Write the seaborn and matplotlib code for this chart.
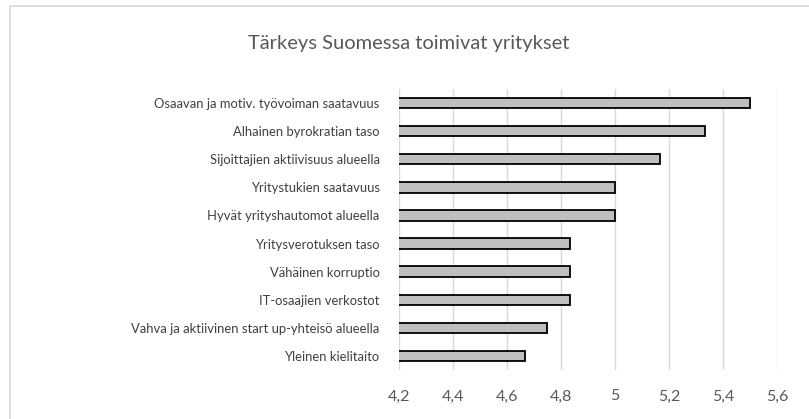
import matplotlib
matplotlib.use("Agg")
import matplotlib.pyplot as plt
import seaborn as sns
import pandas as pd
from matplotlib.patches import Rectangle

categories = [
    "Osaavan ja motiv. työvoiman saatavuus",
    "Alhainen byrokratian taso",
    "Sijoittajien aktiivisuus alueella",
    "Yritystukien saatavuus",
    "Hyvät yrityshautomot alueella",
    "Yritysverotuksen taso",
    "Vähäinen korruptio",
    "IT-osaajien verkostot",
    "Vahva ja aktiivinen start up-yhteisö alueella",
    "Yleinen kielitaito",
]
values = [5.5, 5.333, 5.167, 5.0, 5.0, 4.833, 4.833, 4.833, 4.75, 4.667]
xticks = [4.2, 4.4, 4.6, 4.8, 5.0, 5.2, 5.4, 5.6]
xticklabels = ["4,2", "4,4", "4,6", "4,8", "5", "5,2", "5,4", "5,6"]

df = pd.DataFrame({"category": categories, "value": values})

sns.set_style("white")
plt.rcParams["font.family"] = ["Lato", "DejaVu Sans"]

fig = plt.figure(figsize=(8.09, 4.19), dpi=100)
ax = fig.add_axes([0.4932, 0.1169, 0.4672, 0.6707])

sns.barplot(data=df, x="value", y="category", orient="h", color="#BFBFBF",
            edgecolor="black", linewidth=1.3, width=0.37, saturation=1, ax=ax)

ax.set_xlim(4.2, 5.6)
ax.set_xticks(xticks)
ax.set_xticklabels(xticklabels)
ax.grid(axis="x", color="#D9D9D9", linewidth=1)
ax.set_axisbelow(True)
for s in ax.spines.values():
    s.set_visible(False)
ax.tick_params(axis="y", length=0, labelsize=9.4, colors="#404040", pad=14)
ax.tick_params(axis="x", length=0, labelsize=11.5, colors="#595959", pad=14)
ax.set_xlabel("")
ax.set_ylabel("")

fig.text(0.505, 0.895, "Tärkeys Suomessa toimivat yritykset", ha="center", va="center",
         fontsize=14.5, color="#595959")

# chart border
fig.patches.append(Rectangle((10 / 809, -0.05), 1.1, 1 - 6.5 / 419 + 0.05,
                             transform=fig.transFigure, fill=False,
                             edgecolor="#D9D9D9", linewidth=1.2))

fig.savefig("out.png", dpi=100)
